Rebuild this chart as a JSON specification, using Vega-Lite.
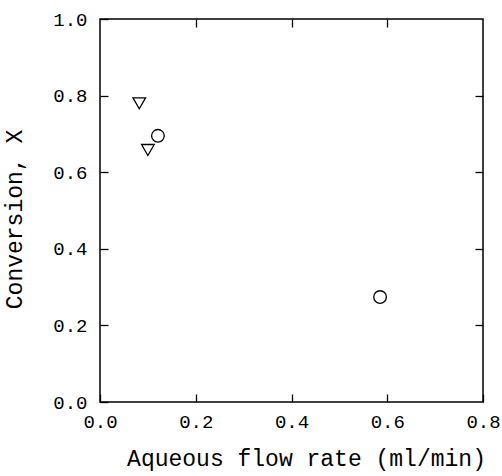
{
  "$schema": "https://vega.github.io/schema/vega-lite/v6.json",
  "width": 383,
  "height": 383,
  "autosize": "none",
  "padding": {"left": 100, "top": 19, "right": 19, "bottom": 74},
  "background": "white",
  "config": {
    "view": {"stroke": "black", "strokeWidth": 1.5},
    "axis": {
      "domain": false,
      "grid": false,
      "tickColor": "black",
      "tickWidth": 1.3,
      "tickSize": -8,
      "labelColor": "black",
      "labelFont": "Liberation Mono",
      "labelFontSize": 19,
      "titleFont": "Liberation Mono",
      "titleFontSize": 23,
      "titleFontWeight": "normal",
      "titleColor": "black"
    }
  },
  "data": {
    "values": [
      {"flow": 0.082, "conv": 0.78, "series": "A"},
      {"flow": 0.100, "conv": 0.658, "series": "A"},
      {"flow": 0.121, "conv": 0.695, "series": "B"},
      {"flow": 0.585, "conv": 0.274, "series": "B"}
    ]
  },
  "layer": [
    {
      "mark": {"type": "point", "filled": false, "color": "black", "strokeWidth": 1.3, "size": 160, "opacity": 1},
      "encoding": {
        "x": {
          "field": "flow", "type": "quantitative",
          "scale": {"domain": [0, 0.8], "nice": false, "zero": false},
          "axis": {"orient": "bottom", "values": [0, 0.2, 0.4, 0.6, 0.8], "format": ".1f", "labelPadding": 18, "title": "Aqueous flow rate (ml/min)", "titlePadding": 16, "titleX": 206, "labelFlush": false}
        },
        "y": {
          "field": "conv", "type": "quantitative",
          "scale": {"domain": [0, 1], "nice": false, "zero": false},
          "axis": {"orient": "left", "values": [0, 0.2, 0.4, 0.6, 0.8, 1.0], "format": ".1f", "labelPadding": 21, "title": "Conversion, X", "titlePadding": 26, "titleY": 200, "labelFlush": false}
        },
        "shape": {
          "field": "series", "type": "nominal",
          "scale": {"domain": ["A", "B"], "range": ["triangle-down", "circle"]},
          "legend": null
        }
      }
    },
    {
      "mark": {"type": "point", "opacity": 0},
      "encoding": {
        "x": {
          "field": "flow", "type": "quantitative",
          "axis": {"orient": "top", "values": [0.2, 0.4, 0.6], "labels": false, "title": null}
        },
        "y": {
          "field": "conv", "type": "quantitative",
          "axis": {"orient": "right", "values": [0.2, 0.4, 0.6, 0.8], "labels": false, "title": null}
        }
      }
    }
  ],
  "resolve": {"axis": {"x": "independent", "y": "independent"}}
}
